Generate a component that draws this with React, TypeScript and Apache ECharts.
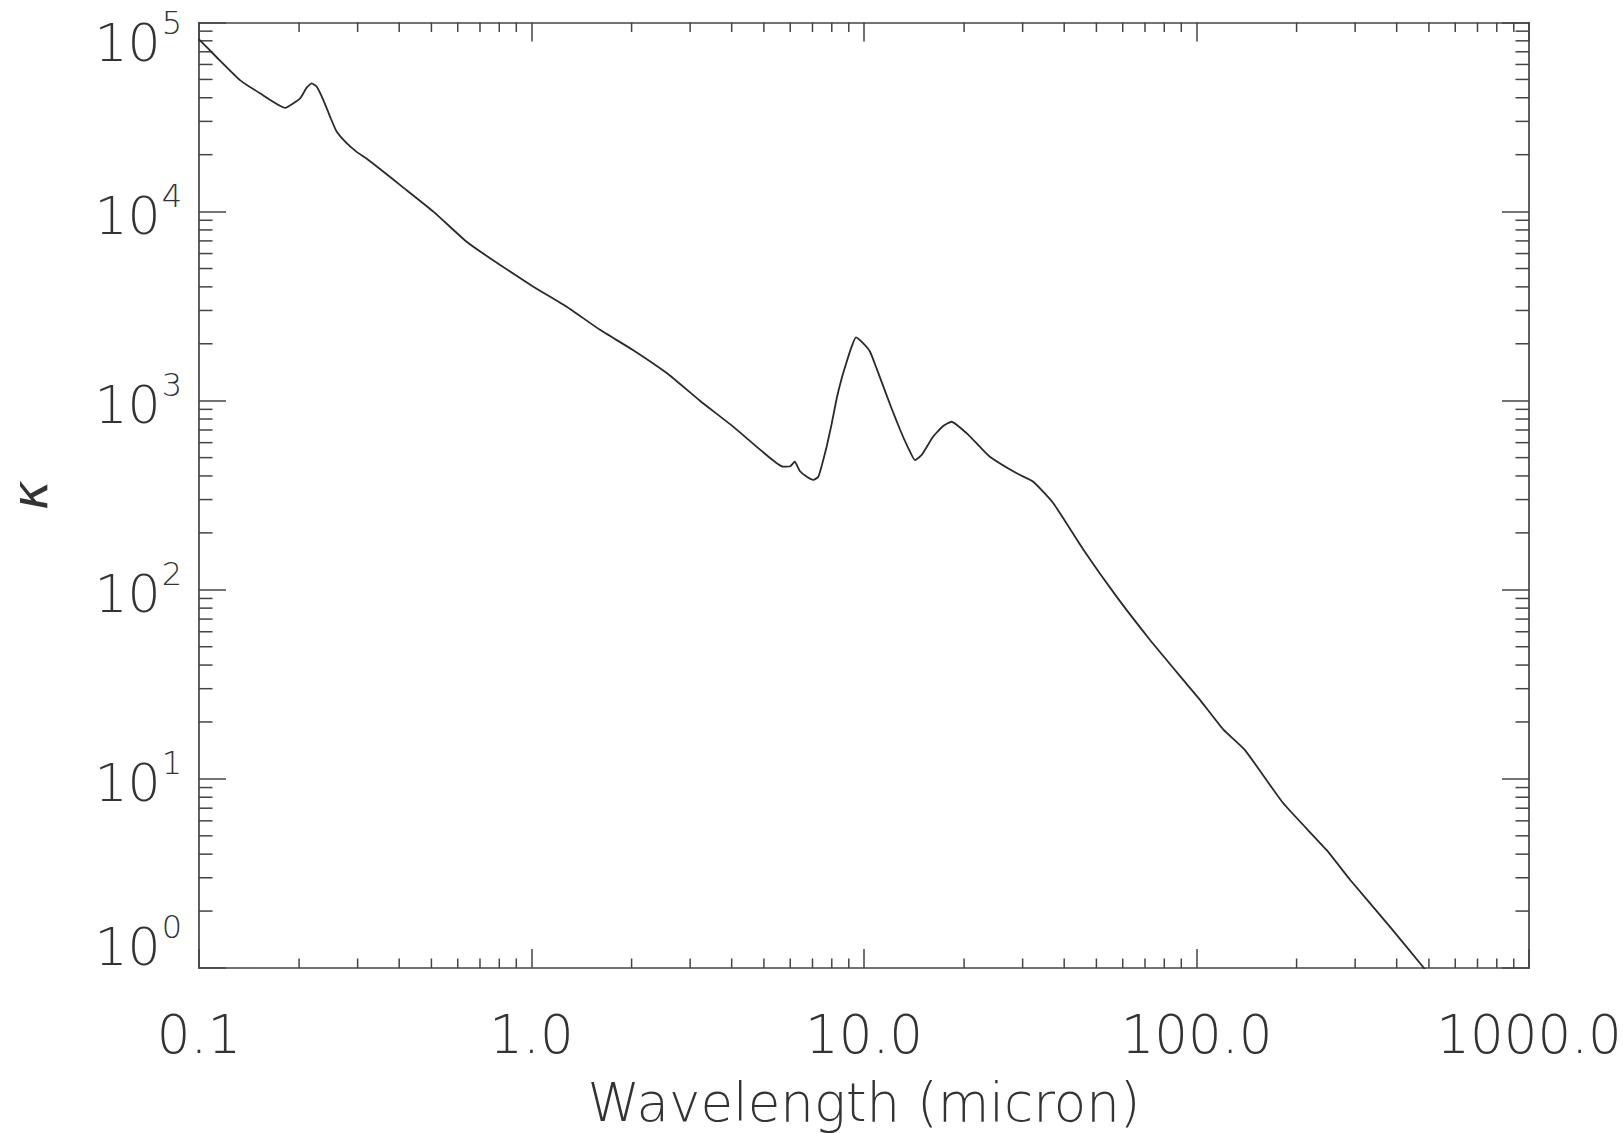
import React, { useEffect, useRef } from "react";
import * as echarts from "echarts";

// Wavelength (micron)
const wavelength = [
  0.1, 0.113, 0.1328, 0.1524, 0.1815, 0.2014, 0.211, 0.2183, 0.226, 0.2366,
  0.2478, 0.2594, 0.278, 0.298, 0.319, 0.358, 0.403, 0.507, 0.638, 0.803,
  1.013, 1.276, 1.607, 2.023, 2.551, 3.21, 4.04, 5.09, 5.71, 6.0,
  6.19, 6.41, 6.73, 7.04, 7.29, 7.45, 7.72, 8.0, 8.28, 8.57,
  8.87, 9.18, 9.46, 9.95, 10.42, 10.91, 11.43, 12.1, 12.85, 13.6,
  14.23, 14.9, 16.15, 17.3, 18.33, 20.37, 22.3, 23.9, 28.8, 32.3,
  37.1, 45.7, 57.5, 72.5, 91.2, 102.6, 120.5, 139.9, 182.4, 246,
  290, 382, 483, 600,
];
// Opacity kappa
const kappa = [
  81500, 65500, 49600, 42300, 35400, 39700, 45400, 47600, 45700, 38900,
  31800, 26500, 23000, 20700, 19100, 16300, 13800, 10000, 6930, 5230,
  4010, 3140, 2370, 1850, 1400, 1000, 729, 516, 448, 450,
  476, 425, 396, 381, 396, 448, 571, 759, 1030, 1313,
  1607, 1932, 2160, 2010, 1820, 1483, 1190, 912, 700, 560,
  485, 516, 646, 735, 774, 672, 571, 506, 413, 373,
  287, 163, 92, 54.3, 33.4, 26.1, 18.2, 14.2, 7.43, 4.21,
  2.92, 1.65, 1.0, 0.63,
];

const X_MIN = 0.1;
const X_MAX = 1000;
const Y_MIN = 1;
const Y_MAX = 100000;

const xMinorTicks = [
  0.2, 0.3, 0.4, 0.5, 0.6, 0.7, 0.8, 0.9,
  2, 3, 4, 5, 6, 7, 8, 9,
  20, 30, 40, 50, 60, 70, 80, 90,
  200, 300, 400, 500, 600, 700, 800, 900,
];
const yMinorTicks = [
  2, 3, 4, 5, 6, 7, 8, 9,
  20, 30, 40, 50, 60, 70, 80, 90,
  200, 300, 400, 500, 600, 700, 800, 900,
  2000, 3000, 4000, 5000, 6000, 7000, 8000, 9000,
  20000, 30000, 40000, 50000, 60000, 70000, 80000, 90000,
];

const xLabelText = "Wavelength (micron)";
const yLabelText = "κ";

const FONT = "'DejaVu Sans', sans-serif";
const AXIS_COLOR = "#444";
const TEXT_COLOR = "#333";
const X_MAJOR_LEN = 19;
const X_MINOR_LEN = 9.5;
const Y_MAJOR_LEN = 27;
const Y_MINOR_LEN = 13.5;

const baseTok = (pad: number[]) => ({
  fontFamily: FONT,
  fontSize: 52,
  fontWeight: 200,
  color: TEXT_COLOR,
  lineHeight: 52,
  height: 52,
  padding: pad,
});
const supTok = (pad: number[]) => ({
  fontFamily: FONT,
  fontSize: 32,
  fontWeight: 200,
  color: TEXT_COLOR,
  lineHeight: 30,
  height: 30,
  padding: pad,
});

export default function App() {
  const ref = useRef<HTMLDivElement>(null);

  useEffect(() => {
    if (!ref.current) return;
    const chart = echarts.init(ref.current, null, { renderer: "svg" });
    const tickStyle = { stroke: AXIS_COLOR, lineWidth: 1.5 };
    const axisLineCommon = { show: true, lineStyle: { color: AXIS_COLOR, width: 1.7 } };
    const eMin = Math.round(Math.log10(Y_MIN));
    const eMax = Math.round(Math.log10(Y_MAX));

    const option: any = {
      animation: false,
      backgroundColor: "#ffffff",
      grid: {
        left: 199,
        right: 94,
        top: 22.5,
        bottom: 165,
        containLabel: false,
        outerBoundsMode: "none",
      },
      xAxis: [
        {
          type: "log",
          logBase: 10,
          min: X_MIN,
          max: X_MAX,
          position: "bottom",
          name: xLabelText,
          nameLocation: "middle",
          nameGap: 108,
          nameTextStyle: { fontFamily: FONT, fontSize: 53, fontWeight: 200, color: TEXT_COLOR },
          axisLine: axisLineCommon,
          axisTick: { show: true, inside: true, length: X_MAJOR_LEN, lineStyle: { color: AXIS_COLOR, width: 1.5 } },
          axisLabel: {
            show: true,
            margin: 40,
            fontFamily: FONT,
            fontSize: 53,
            fontWeight: 200,
            color: TEXT_COLOR,
            formatter: (v: number) => Number(v).toFixed(1),
          },
          splitLine: { show: false },
          minorTick: { show: false },
        },
        {
          type: "log",
          logBase: 10,
          min: X_MIN,
          max: X_MAX,
          position: "top",
          axisLine: axisLineCommon,
          axisTick: { show: true, inside: true, length: X_MAJOR_LEN, lineStyle: { color: AXIS_COLOR, width: 1.5 } },
          axisLabel: { show: false },
          splitLine: { show: false },
        },
      ],
      yAxis: [
        {
          type: "log",
          logBase: 10,
          min: Y_MIN,
          max: Y_MAX,
          position: "left",
          name: yLabelText,
          nameLocation: "middle",
          nameRotate: 90,
          nameGap: 144,
          nameTextStyle: { fontFamily: FONT, fontSize: 50, fontStyle: "italic", fontWeight: 200, color: TEXT_COLOR },
          axisLine: axisLineCommon,
          axisTick: { show: true, inside: true, length: Y_MAJOR_LEN, lineStyle: { color: AXIS_COLOR, width: 1.5 } },
          axisLabel: {
            show: true,
            margin: 17,
            formatter: (v: number) => {
              const e = Math.round(Math.log10(v));
              const k = e === eMax ? "t" : e === eMin ? "m" : "n";
              return `{b${k}|10}{s${k}|${e}}`;
            },
            rich: {
              bn: baseTok([9, 0, 0, 0]),
              sn: supTok([0, 0, 31, 1]),
              bt: baseTok([40, 0, 0, 0]),
              st: supTok([31, 0, 31, 1]),
              bm: baseTok([9, 0, 51, 0]),
              sm: supTok([0, 0, 82, 1]),
            },
          },
          splitLine: { show: false },
        },
        {
          type: "log",
          logBase: 10,
          min: Y_MIN,
          max: Y_MAX,
          position: "right",
          axisLine: axisLineCommon,
          axisTick: { show: true, inside: true, length: Y_MAJOR_LEN, lineStyle: { color: AXIS_COLOR, width: 1.5 } },
          axisLabel: { show: false },
          splitLine: { show: false },
        },
      ],
      series: [
        {
          type: "line",
          xAxisIndex: 0,
          yAxisIndex: 0,
          data: wavelength.map((w, i) => [w, kappa[i]]),
          showSymbol: false,
          symbol: "none",
          smooth: 0.15,
          clip: true,
          lineStyle: { color: "#2a2a2a", width: 1.8 },
          z: 3,
        },
        {
          type: "custom",
          xAxisIndex: 0,
          yAxisIndex: 0,
          clip: false,
          silent: true,
          data: xMinorTicks.map((v) => [v, Y_MIN]),
          encode: { x: 0, y: 1 },
          renderItem: (params: any, api: any) => {
            const v = api.value(0);
            const b = api.coord([v, Y_MIN]);
            const t = api.coord([v, Y_MAX]);
            return {
              type: "group",
              children: [
                { type: "line", shape: { x1: b[0], y1: b[1], x2: b[0], y2: b[1] - X_MINOR_LEN }, style: tickStyle },
                { type: "line", shape: { x1: t[0], y1: t[1], x2: t[0], y2: t[1] + X_MINOR_LEN }, style: tickStyle },
              ],
            };
          },
        },
        {
          type: "custom",
          xAxisIndex: 0,
          yAxisIndex: 0,
          clip: false,
          silent: true,
          data: yMinorTicks.map((v) => [X_MIN, v]),
          encode: { x: 0, y: 1 },
          renderItem: (params: any, api: any) => {
            const v = api.value(1);
            const l = api.coord([X_MIN, v]);
            const r = api.coord([X_MAX, v]);
            return {
              type: "group",
              children: [
                { type: "line", shape: { x1: l[0], y1: l[1], x2: l[0] + Y_MINOR_LEN, y2: l[1] }, style: tickStyle },
                { type: "line", shape: { x1: r[0], y1: r[1], x2: r[0] - Y_MINOR_LEN, y2: r[1] }, style: tickStyle },
              ],
            };
          },
        },
      ],
    };

    chart.setOption(option);
    return () => {
      chart.dispose();
    };
  }, []);

  return (
    <div
      ref={ref}
      style={{ position: "fixed", left: 0, top: 0, width: 1623, height: 1133, background: "#fff" }}
    />
  );
}
